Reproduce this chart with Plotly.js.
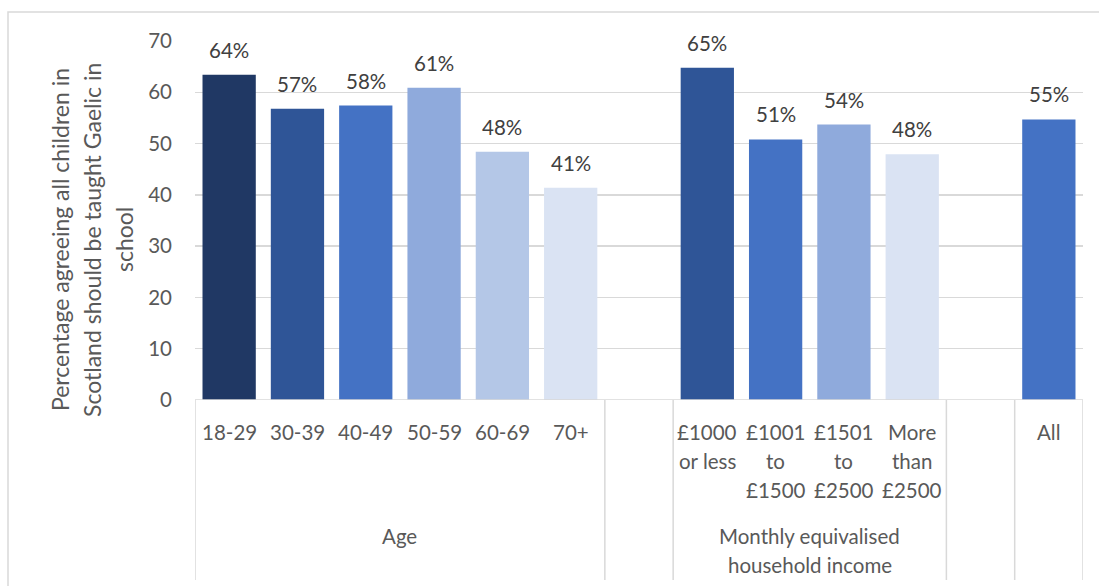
<!DOCTYPE html>
<html>
<head>
<meta charset="utf-8">
<script src="https://cdn.plot.ly/plotly-3.0.1.min.js"></script>
<style>
  html, body { margin: 0; padding: 0; background: #ffffff; }
  #chart { width: 1099px; height: 586px; }
</style>
</head>
<body>
<div id="chart"></div>
<script>
// ---- Data ----
const ageCats = ['18-29', '30-39', '40-49', '50-59', '60-69', '70+'];
const ageVals = [63.4, 56.8, 57.4, 60.9, 48.4, 41.4];
const ageLabels = ['64%', '57%', '58%', '61%', '48%', '41%'];

const incomeCats = ['£1000\nor less', '£1001\nto\n£1500', '£1501\nto\n£2500', 'More\nthan\n£2500'];
const incomeVals = [64.8, 50.8, 53.7, 47.9];
const incomeLabels = ['65%', '51%', '54%', '48%'];

const allCats = ['All'];
const allVals = [54.7];
const allLabels = ['55%'];

const groupNames = ['Age', 'Monthly equivalised\nhousehold income', ''];

const yTitleLines = ['Percentage agreeing all children in', 'Scotland should be taught Gaelic in', 'school'];
const yTicks = [0, 10, 20, 30, 40, 50, 60, 70];

// ---- Styles ----
const ageColors = ['#203864', '#2F5597', '#4472C4', '#8FAADC', '#B4C7E7', '#DAE3F3'];
const incomeColors = ['#2F5597', '#4472C4', '#8FAADC', '#DAE3F3'];
const allColors = ['#4472C4'];
const FONT = 'Lato, "Open Sans", sans-serif';
const TXT = '#595959';
const GRID = '#D9D9D9';
const FS = 20.5;

// ---- Build slots (groups separated by an empty slot) ----
const groups = [
  {cats: ageCats, vals: ageVals, labels: ageLabels, colors: ageColors, name: groupNames[0]},
  {cats: incomeCats, vals: incomeVals, labels: incomeLabels, colors: incomeColors, name: groupNames[1]},
  {cats: allCats, vals: allVals, labels: allLabels, colors: allColors, name: groupNames[2]}
];

const slotNames = [];
const xs = [], ys = [], cols = [], texts = [];
const boundaries = [-0.5];
const groupCenters = [];
groups.forEach((g, gi) => {
  const start = slotNames.length;
  g.cats.forEach((c, i) => {
    slotNames.push(c);
    xs.push(c); ys.push(g.vals[i]); cols.push(g.colors[i]); texts.push(g.labels[i]);
  });
  const end = slotNames.length - 1;
  groupCenters.push({name: g.name, x: (start + end) / 2});
  boundaries.push(end + 0.5);
  if (gi < groups.length - 1) {
    slotNames.push('gap' + gi);
    boundaries.push(end + 1.5);
  }
});

const trace = {
  type: 'bar',
  x: xs,
  y: ys,
  marker: {color: cols, line: {width: 0}},
  hoverinfo: 'x+y',
  showlegend: false
};

const annotations = [];
// data labels
xs.forEach((x, i) => {
  annotations.push({
    xref: 'x', yref: 'y', x: x, y: ys[i], text: texts[i],
    showarrow: false, yanchor: 'middle', xanchor: 'center', yshift: 25,
    font: {family: FONT, size: FS, color: '#404040'}
  });
});
// category labels (line by line)
const LINE = 29;
xs.forEach((x) => {
  x.split('\n').forEach((ln, li) => {
    annotations.push({
      xref: 'x', yref: 'paper', x: x, y: 0, text: ln,
      showarrow: false, yanchor: 'middle', xanchor: 'center', yshift: -(32 + li * LINE),
      font: {family: FONT, size: FS, color: TXT}
    });
  });
});
// group labels
groupCenters.forEach((g) => {
  if (!g.name) return;
  g.name.split('\n').forEach((ln, li) => {
    annotations.push({
      xref: 'x', yref: 'paper', x: g.x, y: 0, text: ln,
      showarrow: false, yanchor: 'middle', xanchor: 'center', yshift: -(136 + li * LINE),
      font: {family: FONT, size: FS, color: TXT}
    });
  });
});
// y-axis title lines (rotated)
yTitleLines.forEach((ln, li) => {
  annotations.push({
    xref: 'paper', yref: 'paper', x: 0, y: (400 - 240) / 359, text: ln,
    showarrow: false, textangle: -90, xanchor: 'center', yanchor: 'middle',
    xshift: -(195 - 60) + li * 32,
    font: {family: FONT, size: 23, color: TXT}
  });
});

const shapes = [];
// category dividers
boundaries.forEach((b) => {
  shapes.push({
    type: 'line', xref: 'x', yref: 'paper', x0: b, x1: b, y0: 0, y1: (400 - 580) / 359,
    line: {color: GRID, width: 1.5}
  });
});
// axis base line
shapes.push({
  type: 'line', xref: 'paper', yref: 'y', x0: 0, x1: 1, y0: 0, y1: 0,
  line: {color: GRID, width: 1.5}
});
// outer chart border
shapes.push({
  type: 'rect', xref: 'paper', yref: 'paper',
  x0: (8 - 195) / 888, x1: (1106 - 195) / 888, y0: (400 - 600) / 359, y1: (400 - 12) / 359,
  line: {color: GRID, width: 1.5}, fillcolor: 'rgba(0,0,0,0)'
});

const layout = {
  width: 1099, height: 586,
  margin: {l: 195, r: 16, t: 41, b: 186, pad: 0},
  paper_bgcolor: '#ffffff', plot_bgcolor: '#ffffff',
  bargap: 0.22,
  font: {family: FONT, size: FS, color: TXT},
  xaxis: {
    type: 'category', categoryorder: 'array', categoryarray: slotNames,
    range: [-0.5, slotNames.length - 0.5],
    showticklabels: false, showgrid: false, zeroline: false, showline: false, ticks: '',
    fixedrange: true
  },
  yaxis: {
    range: [0, 70], tickvals: yTicks, ticktext: yTicks.map(String),
    showgrid: true, gridcolor: GRID, gridwidth: 1.5, zeroline: false, showline: false,
    ticks: '', ticklabelstandoff: 22,
    tickfont: {family: FONT, size: FS, color: TXT}, fixedrange: true
  },
  annotations: annotations,
  shapes: shapes
};

Plotly.newPlot('chart', [trace], layout, {displayModeBar: false, staticPlot: true});
</script>
</body>
</html>
